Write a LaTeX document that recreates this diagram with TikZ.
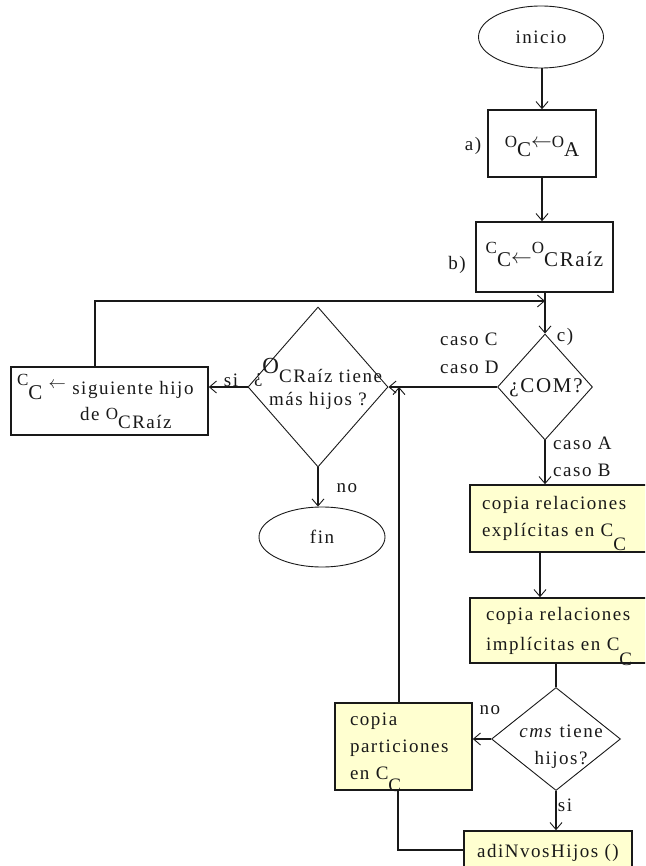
\documentclass[tikz,border=0pt]{standalone}
\usepackage{fontspec}
\setmainfont{Liberation Serif}[LetterSpace=8]
\usetikzlibrary{shapes.geometric,arrows.meta}
\definecolor{notefill}{RGB}{255,255,208}
\definecolor{ink}{RGB}{25,25,25}
% raised small letter and lowered letter (index notation such as O_C)
\newcommand\lift[2]{\smash{\raisebox{#1}{\fontsize{17}{17}\selectfont #2}}}
\newcommand\drop[2]{\smash{\raisebox{-#1}{#2}}}
\newcommand\bigsz{\fontsize{21}{21}\selectfont}

\begin{document}
\begin{tikzpicture}[x=1pt,y=-1pt,
  font=\fontsize{19}{27}\selectfont,
  >={Straight Barb[length=7pt,width=12pt,line width=0.9pt]},
  every node/.style={text=ink},
  proc/.style={draw=ink,line width=1.6pt,rectangle,inner sep=0pt},
  note/.style={proc,fill=notefill},
  term/.style={draw=ink,line width=0.9pt,ellipse,inner sep=0pt},
  choice/.style={draw=ink,line width=0.9pt,diamond,inner sep=0pt},
  flow/.style={draw=ink,line width=1.6pt},
  tag/.style={inner sep=0pt}]

\useasboundingbox (0,0) rectangle (645,866);
\clip (0,0) rectangle (645,866);
\fill[white] (0,0) rectangle (645,866);

% turning points of the connectors
\coordinate (loop) at (95,301);
\coordinate (join) at (399,387);
\coordinate (turn) at (398,850);

% start and the two assignments
\node[term, minimum width=125pt, minimum height=62pt] (start) at (541,37) {inicio};
\node[proc, minimum width=108pt, minimum height=67pt] (seta) at (542,143.5)
  {\bigsz\smash{\raisebox{-13pt}{\lift{9pt}{O}C\raisebox{9pt}{$\leftarrow$}\lift{9pt}{O}A}}};
\node[tag] (la) at (473,146) {a)};
\node[proc, minimum width=137pt, minimum height=70pt] (setb) at (544.5,257)
  {\bigsz\smash{\raisebox{-10pt}{\lift{13pt}{C}C\raisebox{3pt}{$\leftarrow$}\lift{13pt}{O}CRaíz}}};
\node[tag] (lb) at (457,265) {b)};

% case selection
\node[choice, minimum width=95pt, minimum height=106pt] (com) at (545,387) {};
\node[tag, font=\fontsize{21}{21}\selectfont] (comtxt) at (546,388) {¿COM?};
\node[tag] (lc) at (565,337) {c)};
\node[tag, anchor=west] (lcc) at (440,339) {caso C};
\node[tag, anchor=west] (lcd) at (440,367) {caso D};
\node[tag, anchor=west] (lca) at (553,443) {caso A};
\node[tag, anchor=west] (lcb) at (553,470) {caso B};

% loop over the children of the root
\node[choice, minimum width=140pt, minimum height=160pt] (more) at (318,387) {};
\node[tag, align=center, font=\fontsize{19}{23}\selectfont] (moretxt) at (318,389)
  {¿\smash{\raisebox{9pt}{\fontsize{23}{23}\selectfont O}}CRaíz tiene\\más hijos ?};
\node[proc, minimum width=197pt, minimum height=68pt, text width=185pt, align=left,
      font=\fontsize{19}{26}\selectfont] (next) at (109.5,401)
  {\mbox{\lift{9pt}{C}\drop{5pt}{\bigsz C} \raisebox{6pt}{$\leftarrow$} siguiente hijo}\\
   \mbox{\hspace*{63pt}de \lift{1pt}{O}\drop{8pt}{CRaíz}}};
\node[tag] (lsi1) at (231,380) {si};
\node[term, minimum width=126pt, minimum height=60pt] (stop) at (322,537) {fin};
\node[tag] (lno1) at (347,488) {no};

% copying steps
\node[note, minimum width=190pt, minimum height=67pt, text width=166pt, align=left] (expl) at (565,518.5)
  {\mbox{copia relaciones}\\\mbox{explícitas en C\drop{14pt}{C}}};
\node[note, minimum width=190pt, minimum height=65pt, text width=158pt, align=left] (impl) at (565,630.5)
  {\mbox{copia relaciones}\\[3pt]\mbox{implícitas en C\drop{15pt}{C}}};
\node[choice, minimum width=129pt, minimum height=103pt] (kids) at (556,739) {};
\node[tag, align=center] (kidstxt) at (561,747) {\textit{cms} tiene\\hijos?};
\node[tag] (lno2) at (490,710) {no};
\node[note, minimum width=137pt, minimum height=87pt, text width=107pt, align=left] (part) at (403.5,746.5)
  {copia\\particiones\\\mbox{en C\drop{12pt}{C}}};
\node[tag] (lsi2) at (565,805) {si};
\node[note, minimum width=168pt, minimum height=44pt] (adi) at (548,853) {adiNvosHijos ()};

% connectors
\draw[flow,->] (seta.north |- start.south) -- (seta.north);
\draw[flow,->] (seta.south) -- (seta.south |- setb.north);
\draw[flow,->] (com.north |- setb.south) -- (com.north);
\draw[flow,->] (next.north -| loop) -- (loop) -- (loop -| com.north);
\draw[flow,->] (com.west) -- (more.east);
\draw[flow,->] (more.west) -- (more.west -| next.east);
\draw[flow,->] (more.south) -- (more.south |- stop.north);
\draw[flow,->] (com.south) -- (com.south |- expl.north);
\draw[flow,->] ([xshift=-25pt]expl.south) -- ([xshift=-25pt]expl.south |- impl.north);
\draw[flow] (kids.north |- impl.south) -- (kids.north);
\draw[flow,->] (kids.west) -- (kids.west -| part.east);
\draw[flow,->] (kids.south) -- (kids.south |- adi.north);
\draw[flow] (adi.west |- turn) -- (turn) -- (turn |- part.south);
\draw[flow,->] (part.north -| join) -- (join);
\end{tikzpicture}
\end{document}
